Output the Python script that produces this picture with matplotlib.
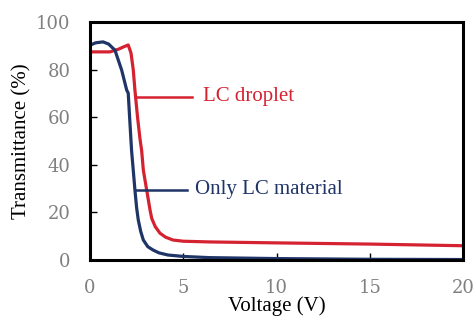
import numpy as np
import matplotlib.pyplot as plt

# values
v_lc = [0, 0.3, 0.7, 1.0, 1.34, 1.7, 1.97, 2.05, 2.14, 2.23, 2.32, 2.41, 2.5, 2.59, 2.72, 2.86, 3.1, 3.38, 3.7, 4.18, 5, 6.4, 10, 15, 20]
t_lc = [90.3, 91.3, 91.7, 90.8, 88.2, 79.8, 71.4, 70.2, 58, 46, 37.8, 29.4, 22, 16.8, 12, 8.4, 5.6, 4.2, 3.0, 2.1, 1.5, 1.0, 0.6, 0.3, 0.2]

v_drop = [0, 0.5, 1.07, 1.52, 1.8, 2.05, 2.2, 2.32, 2.41, 2.55, 2.68, 2.77, 2.86, 3.04, 3.22, 3.31, 3.5, 3.75, 4.05, 4.45, 5, 6.4, 10, 15, 20]
t_drop = [87.5, 87.5, 87.5, 88.6, 89.6, 90.4, 87, 80, 71.4, 60, 51, 46, 37.8, 29.4, 21, 17.5, 14, 11.3, 9.6, 8.4, 7.9, 7.6, 7.2, 6.7, 6.0]

red = '#d42231'
navy = '#1f3467'
grey = '#808080'
times = ['Liberation Serif', 'DejaVu Serif']

plt.rcParams['font.family'] = ['DejaVu Serif']

fig = plt.figure(figsize=(4.76, 3.21), dpi=100)
ax = fig.add_axes([0.189, 0.19, 0.784, 0.741])

ax.plot(v_drop, t_drop, color=red, lw=2.3, solid_joinstyle='round')
ax.plot(v_lc, t_lc, color=navy, lw=2.3, solid_joinstyle='round')

# callout lines + labels
ax.plot([2.5, 5.47], [68.6, 68.6], color=red, lw=1.8)
ax.text(6.06, 68.6, 'LC droplet', color=red, fontsize=15, family=times,
        va='center', ha='left')
ax.plot([2.4, 5.2], [29.5, 29.5], color=navy, lw=1.8)
ax.text(5.63, 29.5, 'Only LC material', color=navy, fontsize=15, family=times,
        va='center', ha='left')

ax.set_xlim(0, 20)
ax.set_ylim(0, 100)
ax.set_xticks([0, 5, 10, 15, 20])
ax.set_yticks([0, 20, 40, 60, 80, 100])
ax.tick_params(direction='in', length=5, width=1, labelsize=13, labelcolor=grey,
               pad=14)
for s in ax.spines.values():
    s.set_linewidth(2.2)

ax.set_xlabel('Voltage (V)', fontsize=15, family=times, labelpad=-1)
ax.set_ylabel('Transmittance (%)', fontsize=15, family=times, labelpad=3)

fig.savefig('out.png', dpi=100)
